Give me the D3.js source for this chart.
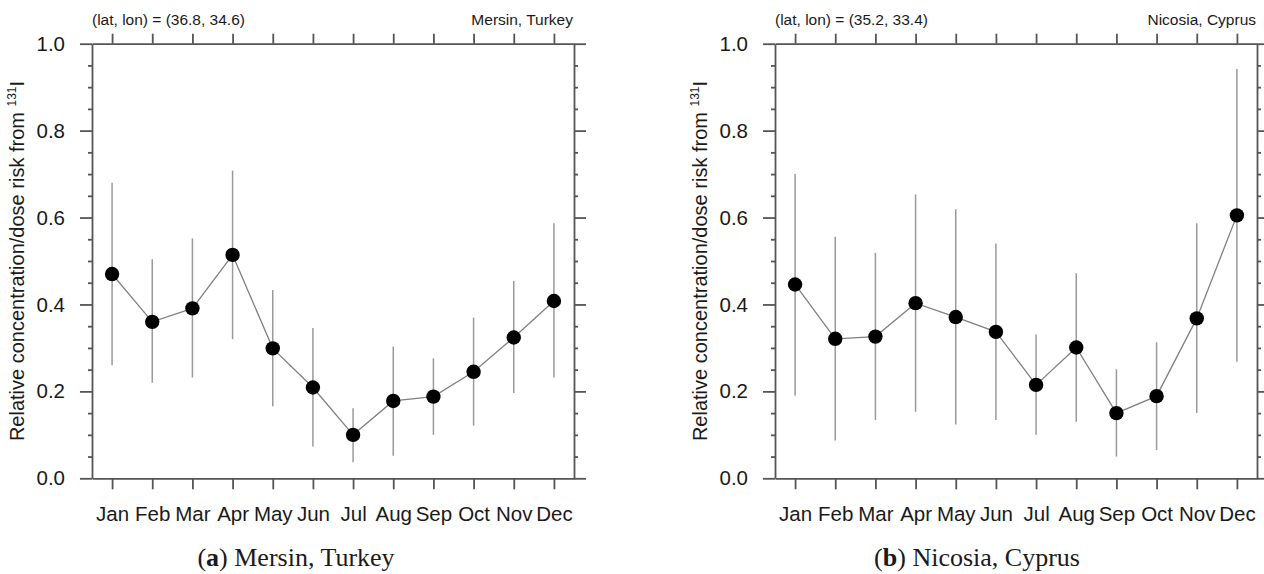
<!DOCTYPE html>
<html>
<head>
<meta charset="utf-8">
<script src="https://cdn.jsdelivr.net/npm/d3@7"></script>
<style>
  body { margin: 0; background: #fff; }
  svg { display: block; }
</style>
</head>
<body>
<div id="chart"></div>
<script>
const months = ["Jan", "Feb", "Mar", "Apr", "May", "Jun", "Jul", "Aug", "Sep", "Oct", "Nov", "Dec"];
const yTicks = [0, 0.2, 0.4, 0.6, 0.8, 1.0];
const yMinor = [0.05, 0.1, 0.15, 0.25, 0.3, 0.35, 0.45, 0.5, 0.55, 0.65, 0.7, 0.75, 0.85, 0.9, 0.95];

// Mersin, Turkey
const mersinMean = [0.470, 0.360, 0.391, 0.514, 0.299, 0.209, 0.100, 0.178, 0.188, 0.245, 0.324, 0.408];
const mersinLow  = [0.260, 0.220, 0.232, 0.320, 0.166, 0.073, 0.037, 0.052, 0.100, 0.121, 0.196, 0.232];
const mersinHigh = [0.680, 0.504, 0.552, 0.708, 0.433, 0.346, 0.161, 0.303, 0.276, 0.370, 0.454, 0.587];

// Nicosia, Cyprus
const nicosiaMean = [0.446, 0.321, 0.326, 0.403, 0.371, 0.337, 0.215, 0.301, 0.150, 0.189, 0.368, 0.605];
const nicosiaLow  = [0.190, 0.087, 0.134, 0.153, 0.124, 0.134, 0.100, 0.130, 0.050, 0.065, 0.150, 0.268];
const nicosiaHigh = [0.700, 0.556, 0.519, 0.653, 0.619, 0.540, 0.331, 0.472, 0.251, 0.313, 0.587, 0.942];

const width = 1264;
const height = 574;
const plotW = 482;
const plotH = 434.6;
const plotTop = 43.7;
const sans = "'Liberation Sans', Arial, Helvetica, sans-serif";
const axisColor = "#555";

const svg = d3.select("#chart")
  .append("svg")
  .attr("width", width)
  .attr("height", height);

function drawPanel(left, mean, low, high, coords, place, letter, captionX) {
  const g = svg.append("g").attr("transform", `translate(${left},${plotTop})`);

  const x = d3.scaleLinear().domain([-0.5, 11.5]).range([0, plotW]);
  const y = d3.scaleLinear().domain([0, 1]).range([plotH, 0]);

  const rows = months.map((m, i) => ({ i, m, mean: mean[i], low: low[i], high: high[i] }));

  // minor ticks
  g.append("g").attr("class", "ax")
    .call(d3.axisLeft(y).tickValues(yMinor).tickSize(4).tickFormat(""))
    .select(".domain").remove();
  g.append("g").attr("class", "ax")
    .attr("transform", `translate(${plotW},0)`)
    .call(d3.axisRight(y).tickValues(yMinor).tickSize(4).tickFormat(""))
    .select(".domain").remove();

  // major axes / frame
  g.append("g").attr("class", "ax yl")
    .call(d3.axisLeft(y).tickValues(yTicks).tickSize(12).tickSizeOuter(0)
      .tickPadding(15).tickFormat(d3.format(".1f")));
  g.append("g").attr("class", "ax")
    .attr("transform", `translate(${plotW},0)`)
    .call(d3.axisRight(y).tickValues(yTicks).tickSize(12).tickSizeOuter(0).tickFormat(""));
  g.append("g").attr("class", "ax xl")
    .attr("transform", `translate(0,${plotH})`)
    .call(d3.axisBottom(x).tickValues(d3.range(12)).tickSize(11).tickSizeOuter(0)
      .tickPadding(17).tickFormat(i => months[i]));
  g.append("g").attr("class", "ax")
    .call(d3.axisTop(x).tickValues(d3.range(12)).tickSize(10).tickSizeOuter(0).tickFormat(""));

  g.selectAll(".ax .domain, .ax line")
    .attr("stroke", axisColor)
    .attr("stroke-width", 1.8);
  g.selectAll(".ax text")
    .attr("fill", "#1a1a1a")
    .style("font-family", sans)
    .style("font-size", "20.5px");

  // error bars
  g.selectAll(".err")
    .data(rows)
    .enter()
    .append("line")
    .attr("class", "err")
    .attr("x1", d => x(d.i))
    .attr("x2", d => x(d.i))
    .attr("y1", d => y(d.low))
    .attr("y2", d => y(d.high))
    .attr("stroke", "#9a9a9a")
    .attr("stroke-width", 1.5);

  g.append("path")
    .datum(rows)
    .attr("fill", "none")
    .attr("stroke", "#808080")
    .attr("stroke-width", 1.3)
    .attr("d", d3.line().x(d => x(d.i)).y(d => y(d.mean)));

  g.selectAll(".pt")
    .data(rows)
    .enter()
    .append("circle")
    .attr("class", "pt")
    .attr("cx", d => x(d.i))
    .attr("cy", d => y(d.mean))
    .attr("r", 7.2)
    .attr("fill", "#000");

  // corner labels
  g.append("text")
    .attr("x", 0)
    .attr("y", -19)
    .style("font-family", sans)
    .style("font-size", "15.5px")
    .attr("fill", "#1a1a1a")
    .text(coords);

  g.append("text")
    .attr("x", plotW - 1)
    .attr("y", -19)
    .attr("text-anchor", "end")
    .style("font-family", sans)
    .style("font-size", "15.5px")
    .attr("fill", "#1a1a1a")
    .text(place);

  // y title
  const yt = g.append("text")
    .attr("transform", `translate(${-68},${plotH / 2}) rotate(-90)`)
    .attr("text-anchor", "middle")
    .style("font-family", sans)
    .style("font-size", "20px")
    .attr("fill", "#1a1a1a");
  yt.append("tspan").text("Relative concentration/dose risk from ");
  yt.append("tspan").attr("dy", -8).style("font-size", "12px").text("131");
  yt.append("tspan").attr("dy", 8).text("I");

  // caption
  const cap = svg.append("text")
    .attr("x", captionX)
    .attr("y", 566)
    .attr("text-anchor", "middle")
    .style("font-family", "'Liberation Serif', 'Times New Roman', serif")
    .style("font-size", "26px")
    .attr("fill", "#1a1a1a");
  cap.append("tspan").text("(");
  cap.append("tspan").style("font-weight", "bold").text(letter);
  cap.append("tspan").text(") " + place);
}

drawPanel(92, mersinMean, mersinLow, mersinHigh, "(lat, lon) = (36.8, 34.6)", "Mersin, Turkey", "a", 296);
drawPanel(775, nicosiaMean, nicosiaLow, nicosiaHigh, "(lat, lon) = (35.2, 33.4)", "Nicosia, Cyprus", "b", 977);
</script>
</body>
</html>
